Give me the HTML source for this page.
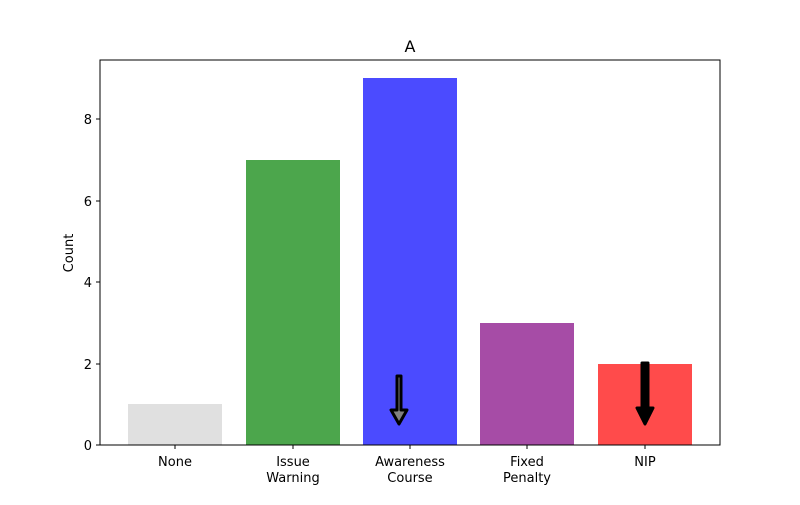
<!DOCTYPE html><html><head><style>body{margin:0;background:#fff}</style></head><body>
<svg width="800" height="500" xmlns="http://www.w3.org/2000/svg" font-family="'DejaVu Sans', sans-serif">
<rect width="800" height="500" fill="#fff"/>
<rect x="128" y="404" width="94" height="41" fill="#e0e0e0"/>
<rect x="246" y="160" width="94" height="285" fill="#4ca64c"/>
<rect x="363" y="78" width="94" height="367" fill="#4b4bff"/>
<rect x="480" y="323" width="94" height="122" fill="#a64ca6"/>
<rect x="598" y="364" width="94" height="81" fill="#ff4b4b"/>
<g stroke="#000" stroke-linejoin="round" stroke-linecap="round">
<path d="M397 376 L401 376 L401 410 L407 410 L399 424 L391 410 L397 410 Z" fill="#808080" stroke-width="3"/>
<path d="M642 363 L648 363 L648 408 L653 408 L645 424 L637 408 L642 408 Z" fill="#000" stroke-width="3"/>
</g>
<rect x="100" y="60" width="620" height="385" fill="none" stroke="#000" stroke-width="1"/>
<g stroke="#000">
<line x1="100" y1="445" x2="96" y2="445"/><line x1="100" y1="364" x2="96" y2="364"/><line x1="100" y1="282" x2="96" y2="282"/><line x1="100" y1="201" x2="96" y2="201"/><line x1="100" y1="119" x2="96" y2="119"/>
<line x1="175" y1="445" x2="175" y2="449"/><line x1="293" y1="445" x2="293" y2="449"/><line x1="410" y1="445" x2="410" y2="449"/><line x1="527" y1="445" x2="527" y2="449"/><line x1="645" y1="445" x2="645" y2="449"/>
</g>
<g font-size="13" text-anchor="end">
<text x="92" y="450">0</text><text x="92" y="369">2</text><text x="92" y="287">4</text><text x="92" y="206">6</text><text x="92" y="124">8</text>
</g>
<g font-size="13" text-anchor="middle">
<text x="175" y="466">None</text>
<text x="293" y="466">Issue</text><text x="293" y="482">Warning</text>
<text x="410" y="466">Awareness</text><text x="410" y="482">Course</text>
<text x="527" y="466">Fixed</text><text x="527" y="482">Penalty</text>
<text x="645" y="466">NIP</text>
</g>
<text x="73" y="253" font-size="13" text-anchor="middle" transform="rotate(-90 73 253)">Count</text>
<text x="410" y="52" font-size="16" text-anchor="middle">A</text>
</svg></body></html>
